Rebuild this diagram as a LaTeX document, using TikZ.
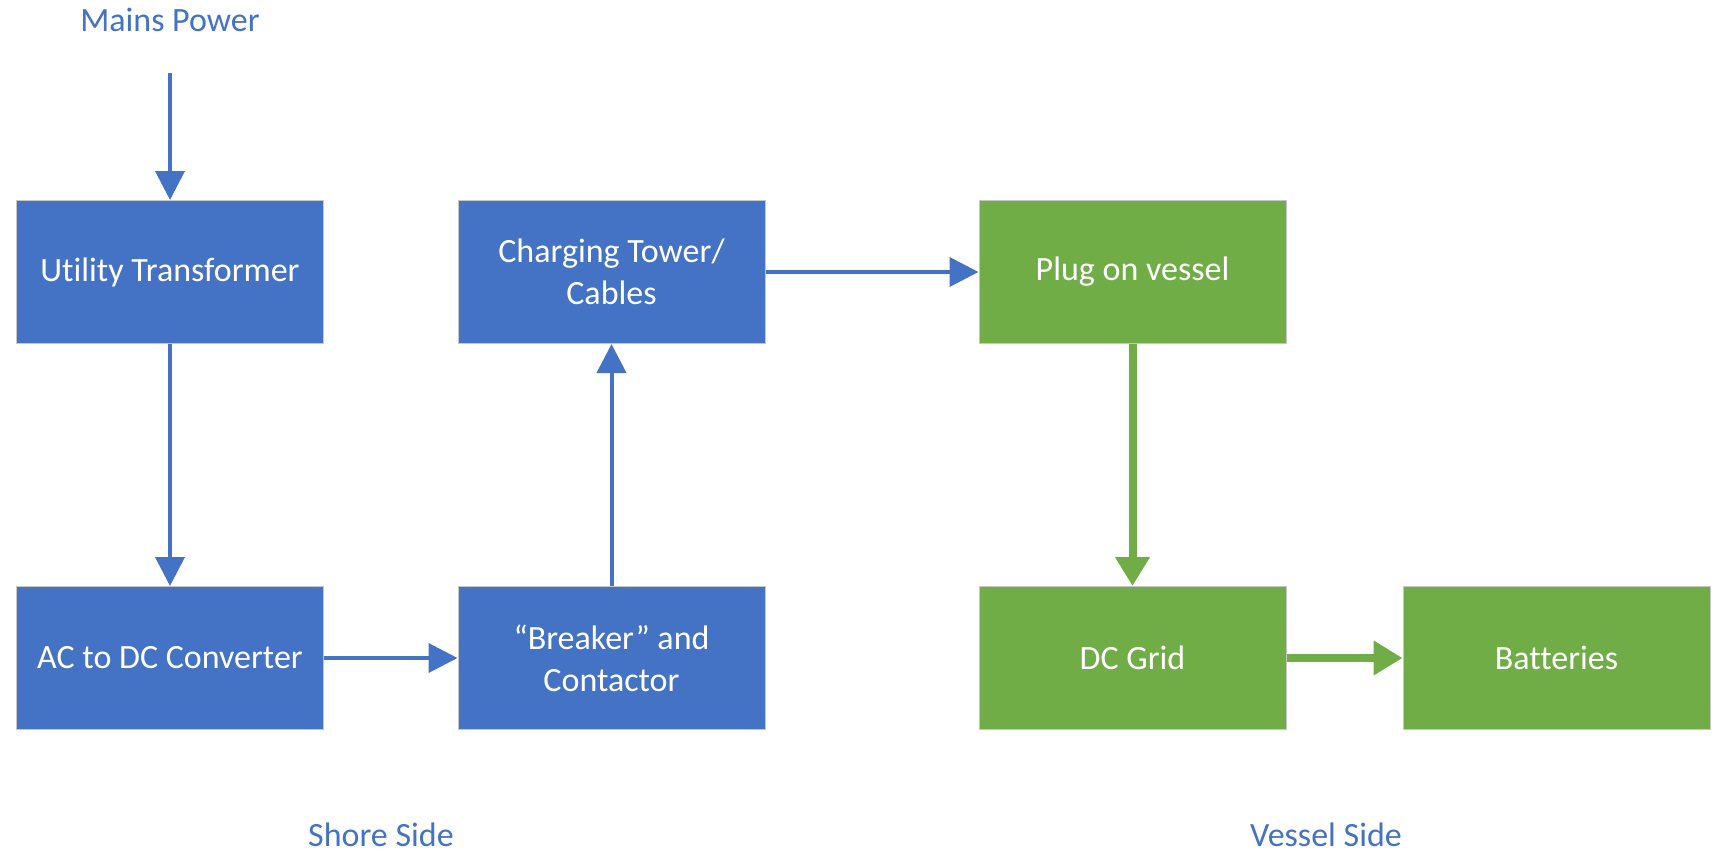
\documentclass[tikz,border=0pt]{standalone}
\usepackage{fontspec}
\setmainfont{Carlito}[Ligatures=NoCommon]
\usetikzlibrary{arrows.meta}
\definecolor{shoreblue}{HTML}{4472C4}
\definecolor{vesselgreen}{HTML}{70AD47}
\tikzset{
  block/.style={rectangle, draw=gray!45, line width=1pt, minimum width=307pt,
    minimum height=143pt, inner sep=0pt, text=white, align=center,
    font=\fontsize{34}{42}\selectfont},
  shorebox/.style={block, fill=shoreblue},
  vesselbox/.style={block, fill=vesselgreen},
  caption/.style={text=shoreblue, font=\fontsize{34}{40}\selectfont, inner sep=0pt},
  bluearrow/.style={draw=shoreblue, line width=4pt,
    -{Triangle[length=29pt,width=29pt]}},
  greenarrow/.style={draw=vesselgreen, line width=8pt,
    -{Triangle[length=29pt,width=33pt]}}
}
\begin{document}
\begin{tikzpicture}[x=1pt,y=-1pt]
  \useasboundingbox (0,0) rectangle (1719,857);

  % shore side
  \node[caption] (mains) at (170,20) {Mains Power};
  \coordinate (mainsfeed) at (170,73);
  \node[shorebox] (ut) at (170,272) {Utility Transformer};
  \node[shorebox] (acdc) at (170,658) {AC to DC Converter};
  \node[shorebox] (brk) at (611.5,658) {“Breaker” and\\Contactor};
  \node[shorebox] (tower) at (611.5,272) {Charging Tower/\\Cables};

  % vessel side
  \node[vesselbox] (plug) at (1132.5,272) {Plug on vessel};
  \node[vesselbox] (grid) at (1132.5,658) {DC Grid};
  \node[vesselbox] (bat) at (1556.5,658) {Batteries};

  % side labels
  \node[caption, anchor=base] (shore) at (381,846) {Shore Side};
  \node[caption, anchor=base] (vessel) at (1326,846) {Vessel Side};

  % connectors
  \draw[bluearrow] (mainsfeed) -- (ut.north);
  \draw[bluearrow] (ut.south) -- (acdc.north);
  \draw[bluearrow] (acdc.east) -- (brk.west);
  \draw[bluearrow] (brk.north) -- (tower.south);
  \draw[bluearrow] (tower.east) -- (plug.west);
  \draw[greenarrow] (plug.south) -- (grid.north);
  \draw[greenarrow] (grid.east) -- (bat.west);
\end{tikzpicture}
\end{document}
